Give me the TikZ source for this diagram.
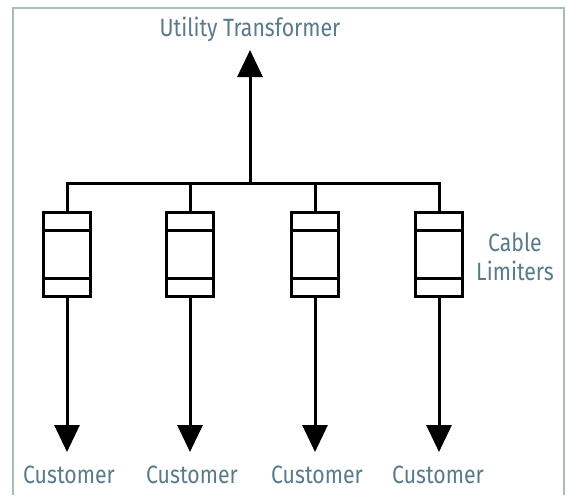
\documentclass[tikz,border=0pt]{standalone}
\usepackage{fontspec}
\setmainfont[FakeStretch=0.85]{Fira Sans}
\usetikzlibrary{arrows.meta}
\definecolor{labelblue}{HTML}{587A8A}
\definecolor{framegray}{HTML}{A7BBC3}
\begin{document}
\begin{tikzpicture}[x=1pt,y=-1pt]
            \tikzset{
	wire/.style={draw,line width=3pt},
	feed/.style={wire,-{Triangle[length=27pt,width=25pt]}},
	limiter/.style={draw,line width=3pt,minimum width=47pt,minimum height=84pt,inner sep=0pt,
		path picture={
			\draw[line width=3pt] ([yshift=-18pt]path picture bounding box.north west) -- ([yshift=-18pt]path picture bounding box.north east);
			\draw[line width=3pt] ([yshift=18pt]path picture bounding box.south west) -- ([yshift=18pt]path picture bounding box.south east);
		}},
	lbl/.style={text=labelblue,font=\fontsize{25}{29}\selectfont,inner sep=0pt,anchor=base}
}
\useasboundingbox (0,0) rectangle (567,495);
\draw[framegray,line width=2pt] (12.5,495) -- (12.5,8.5) -- (563.5,8.5) -- (563.5,495);

\node[lbl] (ut) at (250,37) {Utility Transformer};
\coordinate (top) at (250,50);
\coordinate (bus) at (250,183);

\node[limiter] (l1) at (67,254) {};
\node[limiter] (l2) at (190,254) {};
\node[limiter] (l3) at (315,254) {};
\node[limiter] (l4) at (439,254) {};
\node[lbl] (cable) at (515,251) {Cable};
\node[lbl] (lim) at (515,280) {Limiters};

\coordinate (e1) at (67,452);
\coordinate (e2) at (190,452);
\coordinate (e3) at (315,452);
\coordinate (e4) at (439,452);
\node[lbl] (c1) at (69,483) {Customer};
\node[lbl] (c2) at (192,483) {Customer};
\node[lbl] (c3) at (317,483) {Customer};
\node[lbl] (c4) at (438,483) {Customer};

\draw[feed] (bus) -- (top);
\draw[wire] (l1.north) |- (bus) -| (l4.north);
\draw[wire] (l2.north) -- (l2.north |- bus);
\draw[wire] (l3.north) -- (l3.north |- bus);
\draw[feed] (l1.south) -- (e1);
\draw[feed] (l2.south) -- (e2);
\draw[feed] (l3.south) -- (e3);
\draw[feed] (l4.south) -- (e4);
        \end{tikzpicture}
\end{document}
